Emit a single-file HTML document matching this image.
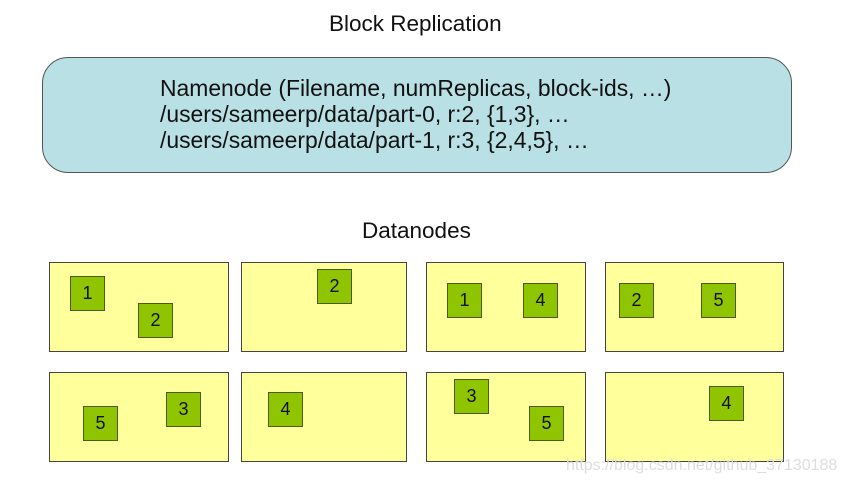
<!DOCTYPE html>
<html><head><style>
body{margin:0;width:846px;height:485px;background:#fff;position:relative;overflow:hidden;font-family:"Liberation Sans",sans-serif;}
.t{position:absolute;color:#111;font-size:22.5px;}
.nn{position:absolute;left:42px;top:57px;width:748px;height:114px;border:1.5px solid #555;border-radius:26px;background:#b9e0e4;}
.nt{position:absolute;left:160px;top:75px;font-size:22.9px;line-height:26px;color:#111;}
.b{position:absolute;background:#ffff9c;border:1.5px solid #444;box-sizing:border-box;}
.s{position:absolute;width:35px;height:35px;background:#8fc400;border:1.5px solid #4a5a10;box-sizing:border-box;font-size:18px;text-align:center;line-height:32px;color:#111;}
.wm{position:absolute;left:566px;top:457px;font-size:16px;color:#ddd;}
</style></head><body>
<div class="t" style="left:329px;top:11px;">Block Replication</div>
<div class="nn"></div>
<div class="nt">Namenode (Filename, numReplicas, block-ids, …)<br>/users/sameerp/data/part-0, r:2, {1,3}, …<br>/users/sameerp/data/part-1, r:3, {2,4,5}, …</div>
<div class="t" style="left:362px;top:218px;">Datanodes</div>
<div class="b" style="left:49px;top:262px;width:180px;height:90px"></div>
<div class="b" style="left:241px;top:262px;width:166px;height:90px"></div>
<div class="b" style="left:426px;top:262px;width:160px;height:90px"></div>
<div class="b" style="left:605px;top:262px;width:179px;height:90px"></div>
<div class="b" style="left:49px;top:372px;width:180px;height:90px"></div>
<div class="b" style="left:241px;top:372px;width:166px;height:90px"></div>
<div class="b" style="left:426px;top:372px;width:160px;height:90px"></div>
<div class="b" style="left:605px;top:372px;width:179px;height:90px"></div>
<div class="s" style="left:70px;top:276px">1</div>
<div class="s" style="left:138px;top:303px">2</div>
<div class="s" style="left:317px;top:269px">2</div>
<div class="s" style="left:447px;top:283px">1</div>
<div class="s" style="left:523px;top:283px">4</div>
<div class="s" style="left:619px;top:283px">2</div>
<div class="s" style="left:701px;top:283px">5</div>
<div class="s" style="left:83px;top:406px">5</div>
<div class="s" style="left:166px;top:392px">3</div>
<div class="s" style="left:268px;top:392px">4</div>
<div class="s" style="left:454px;top:379px">3</div>
<div class="s" style="left:529px;top:406px">5</div>
<div class="s" style="left:709px;top:386px">4</div>
<div class="wm">https://blog.csdn.net/github_37130188</div>
</body></html>
